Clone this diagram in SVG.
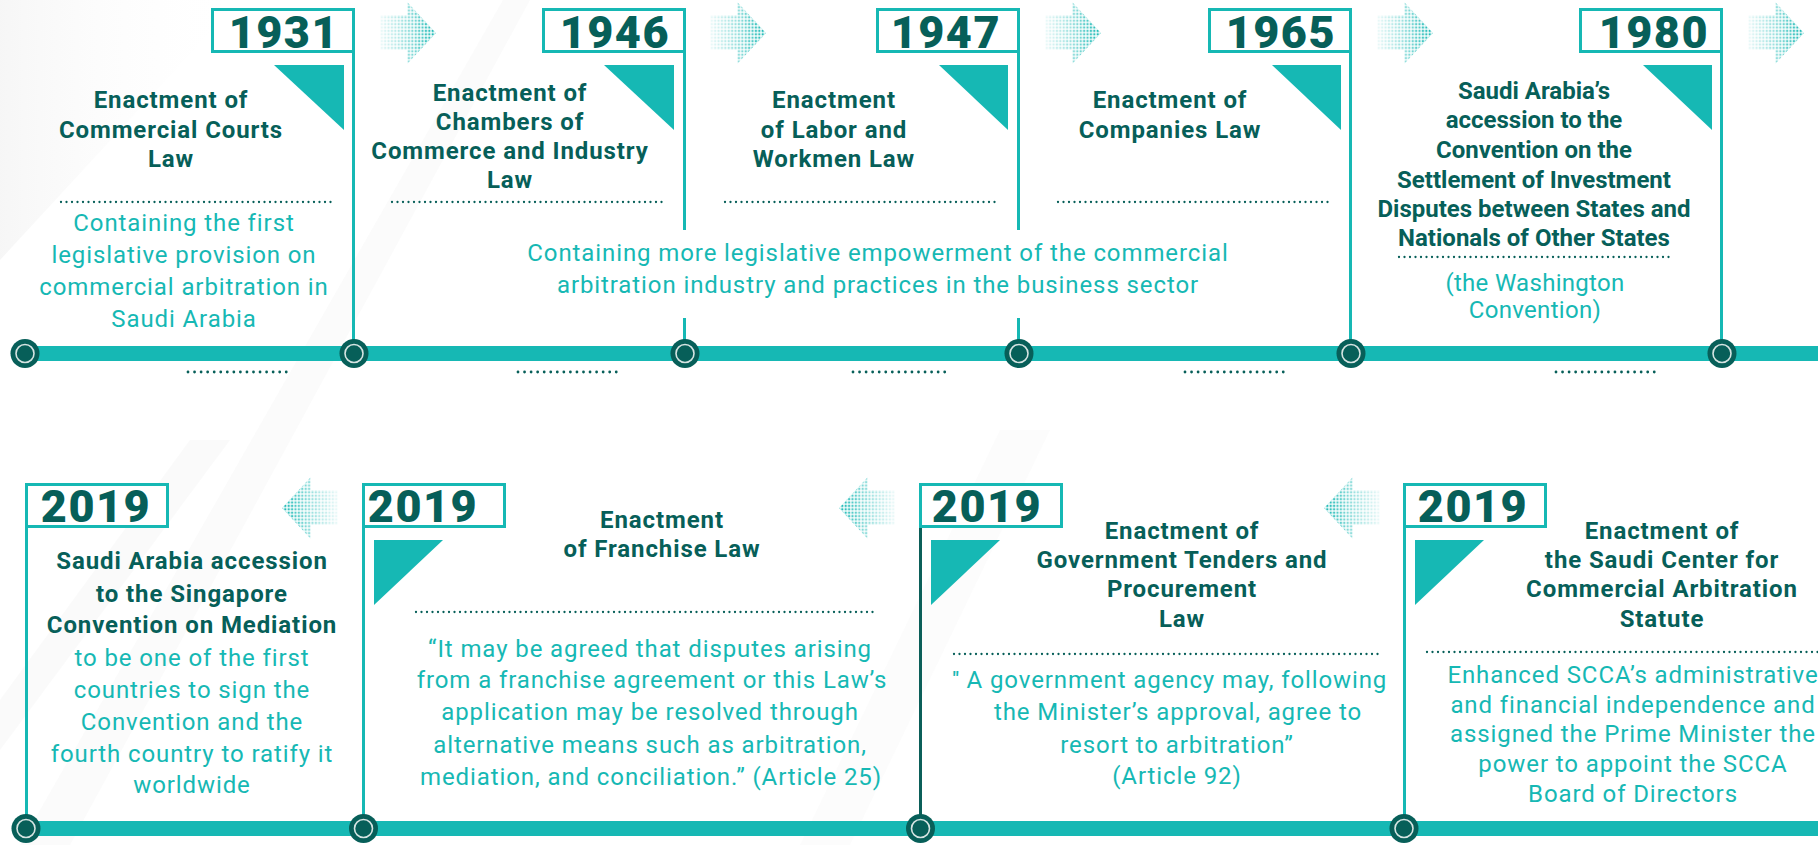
<svg xmlns="http://www.w3.org/2000/svg" xmlns:xlink="http://www.w3.org/1999/xlink" width="1818" height="845" viewBox="0 0 1818 845">
<style>
.t{font-family:Roboto,"Liberation Sans",sans-serif;font-weight:700;font-size:24px;letter-spacing:0.9px;fill:#075f59;text-anchor:middle}
.tc{letter-spacing:0px}
.d{font-family:Roboto,"Liberation Sans",sans-serif;font-weight:400;font-size:24px;letter-spacing:0.9px;fill:#16b8b4;text-anchor:middle}
.y{font-family:Roboto,"Liberation Sans",sans-serif;font-weight:900;font-size:45px;letter-spacing:1.5px;fill:#075f59}
.sep{stroke:#075f59;stroke-width:2.3;stroke-dasharray:0 5.5;stroke-linecap:round;fill:none}
.sub{stroke:#075f59;stroke-width:2.8;stroke-dasharray:0 6.55;stroke-linecap:round;fill:none}
.box{fill:#fff;stroke:#16b8b4;stroke-width:3}
.vl{stroke:#16b8b4;stroke-width:3;fill:none}
.tri{fill:#16b8b4}
.bar{fill:#16b8b4}
</style>
<defs>
<pattern id="dots" width="3.4" height="3.4" patternUnits="userSpaceOnUse">
<rect x="0.6" y="0.6" width="2.2" height="2.2" fill="#16b8b4"/>
</pattern>
<linearGradient id="fade" x1="0" y1="0" x2="1" y2="0">
<stop offset="0" stop-color="#fff" stop-opacity="0.92"/>
<stop offset="0.5" stop-color="#fff" stop-opacity="0.55"/>
<stop offset="1" stop-color="#fff" stop-opacity="0"/>
</linearGradient>
<linearGradient id="bgA" x1="0" y1="0" x2="1" y2="0">
<stop offset="0" stop-color="#efefef" stop-opacity="0.9"/>
<stop offset="1" stop-color="#ffffff" stop-opacity="0"/>
</linearGradient>
<g id="arr">
<polygon points="0,13 27,13 27,0 56,31 27,62 27,48 0,48" fill="url(#dots)"/>
<polygon points="0,13 27,13 27,0 56,31 27,62 27,48 0,48" fill="url(#fade)"/>
</g>
<g id="knob">
<circle r="14.5" fill="#075f59"/>
<circle r="9" fill="none" stroke="#d6e4e2" stroke-width="1.6"/>
</g>
</defs>

<g id="background">
<rect width="1818" height="845" fill="#ffffff"/>
<polygon points="0,0 240,0 0,260" fill="url(#bgA)" opacity="0.6"/>
<polygon points="503,0 530,0 70,845 20,845" fill="#f4f4f4" opacity="0.4"/>
<polygon points="190,440 230,440 0,750 0,700" fill="#f3f3f3" opacity="0.4"/>
<polygon points="1000,430 1050,430 850,845 800,845" fill="#f6f6f6" opacity="0.35"/>
</g>

<g id="connectors">
<rect class="bar" x="25" y="346" width="1793" height="15"/>
<rect class="bar" x="25" y="821" width="1793" height="15"/>
<line class="vl" x1="353.5" y1="51" x2="353.5" y2="353"/>
<line class="vl" x1="684.5" y1="51" x2="684.5" y2="230"/>
<line class="vl" x1="684.5" y1="318" x2="684.5" y2="353"/>
<line class="vl" x1="1018.5" y1="51" x2="1018.5" y2="230"/>
<line class="vl" x1="1018.5" y1="318" x2="1018.5" y2="353"/>
<line class="vl" x1="1350.5" y1="51" x2="1350.5" y2="353"/>
<line class="vl" x1="1721.5" y1="51" x2="1721.5" y2="353"/>
<line class="vl" x1="26.5" y1="527" x2="26.5" y2="828"/>
<line class="vl" x1="363.5" y1="527" x2="363.5" y2="828"/>
<line class="vl" x1="920.5" y1="527" x2="920.5" y2="828" style="stroke:#0b5f59"/>
<line class="vl" x1="1404.5" y1="527" x2="1404.5" y2="828"/>
<use xlink:href="#knob" x="25" y="353.5"/>
<use xlink:href="#knob" x="354" y="353.5"/>
<use xlink:href="#knob" x="685" y="353.5"/>
<use xlink:href="#knob" x="1019" y="353.5"/>
<use xlink:href="#knob" x="1351" y="353.5"/>
<use xlink:href="#knob" x="1722" y="353.5"/>
<use xlink:href="#knob" x="26" y="828.5"/>
<use xlink:href="#knob" x="363.5" y="828.5"/>
<use xlink:href="#knob" x="920.5" y="828.5"/>
<use xlink:href="#knob" x="1404" y="828.5"/>
<line class="sub" x1="188" y1="372" x2="287" y2="372"/>
<line class="sub" x1="518" y1="372" x2="617" y2="372"/>
<line class="sub" x1="853" y1="372" x2="951" y2="372"/>
<line class="sub" x1="1185" y1="372" x2="1284" y2="372"/>
<line class="sub" x1="1556" y1="372" x2="1655" y2="372"/>
<use xlink:href="#arr" transform="translate(380,2)"/>
<use xlink:href="#arr" transform="translate(710,2)"/>
<use xlink:href="#arr" transform="translate(1045,2)"/>
<use xlink:href="#arr" transform="translate(1377,2)"/>
<use xlink:href="#arr" transform="translate(1748,2)"/>
<use xlink:href="#arr" transform="translate(338,477) scale(-1,1)"/>
<use xlink:href="#arr" transform="translate(895,477) scale(-1,1)"/>
<use xlink:href="#arr" transform="translate(1380,477) scale(-1,1)"/>
</g>

<g id="node-1931">
<rect class="box" x="212.5" y="9.5" width="141" height="42"/>
<text class="y" x="339" y="48" text-anchor="end">1931</text>
<polygon class="tri" points="274,65 344,65 344,130"/>
<text class="t" x="171" y="108">Enactment of</text>
<text class="t" x="171" y="138">Commercial Courts</text>
<text class="t" x="171" y="167">Law</text>
<line class="sep" x1="61" y1="202" x2="333" y2="202"/>
<text class="d" x="184" y="231">Containing the first</text>
<text class="d" x="184" y="263">legislative provision on</text>
<text class="d" x="184" y="295">commercial arbitration in</text>
<text class="d" x="184" y="327">Saudi Arabia</text>
</g>

<g id="node-1946">
<rect class="box" x="543.5" y="9.5" width="141" height="42"/>
<text class="y" x="670" y="48" text-anchor="end">1946</text>
<polygon class="tri" points="604,65 674,65 674,130"/>
<text class="t" x="510" y="101">Enactment of</text>
<text class="t" x="510" y="130">Chambers of</text>
<text class="t" x="510" y="159">Commerce and Industry</text>
<text class="t" x="510" y="188">Law</text>
<line class="sep" x1="392" y1="202" x2="663" y2="202"/>
</g>

<g id="node-1947">
<rect class="box" x="877.5" y="9.5" width="141" height="42"/>
<text class="y" x="1001" y="48" text-anchor="end">1947</text>
<polygon class="tri" points="939,65 1008,65 1008,130"/>
<text class="t" x="834" y="108">Enactment</text>
<text class="t" x="834" y="138">of Labor and</text>
<text class="t" x="834" y="167">Workmen Law</text>
<line class="sep" x1="725" y1="202" x2="998" y2="202"/>
</g>

<g id="node-1965">
<rect class="box" x="1209.5" y="9.5" width="141" height="42"/>
<text class="y" x="1336" y="48" text-anchor="end">1965</text>
<polygon class="tri" points="1272,65 1341,65 1341,130"/>
<text class="t" x="1170" y="108">Enactment of</text>
<text class="t" x="1170" y="138">Companies Law</text>
<line class="sep" x1="1058" y1="202" x2="1330" y2="202"/>
</g>

<g id="shared-note">
<text class="d" x="878" y="261">Containing more legislative empowerment of the commercial</text>
<text class="d" x="878" y="293">arbitration industry and practices in the business sector</text>
</g>

<g id="node-1980">
<rect class="box" x="1580.5" y="9.5" width="141" height="42"/>
<text class="y" x="1709" y="48" text-anchor="end">1980</text>
<polygon class="tri" points="1643,65 1712,65 1712,130"/>
<text class="t tc" x="1534" y="99">Saudi Arabia’s</text>
<text class="t tc" x="1534" y="128">accession to the</text>
<text class="t tc" x="1534" y="158">Convention on the</text>
<text class="t tc" x="1534" y="188">Settlement of Investment</text>
<text class="t tc" x="1534" y="217">Disputes between States and</text>
<text class="t tc" x="1534" y="246">Nationals of Other States</text>
<line class="sep" x1="1399" y1="257" x2="1672" y2="257"/>
<text class="d" x="1535" y="291" style="letter-spacing:0.3px">(the Washington</text>
<text class="d" x="1535" y="318" style="letter-spacing:0.3px">Convention)</text>
</g>

<g id="node-2019-singapore">
<rect class="box" x="26.5" y="484.5" width="141" height="42"/>
<text class="y" x="96" y="522" text-anchor="middle">2019</text>
<text class="t" x="192" y="569">Saudi Arabia accession</text>
<text class="t" x="192" y="602">to the Singapore</text>
<text class="t" x="192" y="633">Convention on Mediation</text>
<text class="d" x="192" y="666">to be one of the first</text>
<text class="d" x="192" y="698">countries to sign the</text>
<text class="d" x="192" y="730">Convention and the</text>
<text class="d" x="192" y="762">fourth country to ratify it</text>
<text class="d" x="192" y="793">worldwide</text>
</g>

<g id="node-2019-franchise">
<rect class="box" x="363.5" y="484.5" width="141" height="42"/>
<text class="y" x="423" y="522" text-anchor="middle">2019</text>
<polygon class="tri" points="374,540 443,540 374,605"/>
<text class="t" x="662" y="528">Enactment</text>
<text class="t" x="662" y="557">of Franchise Law</text>
<line class="sep" x1="416" y1="612" x2="878" y2="612"/>
<text class="d" x="650" y="657">“It may be agreed that disputes arising</text>
<text class="d" x="652" y="688">from a franchise agreement or this Law’s</text>
<text class="d" x="650" y="720">application may be resolved through</text>
<text class="d" x="650" y="753">alternative means such as arbitration,</text>
<text class="d" x="651" y="785">mediation, and conciliation.” (Article 25)</text>
</g>

<g id="node-2019-tenders">
<rect class="box" x="920.5" y="484.5" width="141" height="42"/>
<text class="y" x="987" y="522" text-anchor="middle">2019</text>
<polygon class="tri" points="931,540 1000,540 931,605"/>
<text class="t" x="1182" y="539">Enactment of</text>
<text class="t" x="1182" y="568">Government Tenders and</text>
<text class="t" x="1182" y="597">Procurement</text>
<text class="t" x="1182" y="627">Law</text>
<line class="sep" x1="954" y1="654" x2="1382" y2="654"/>
<text class="d" x="1170" y="688"><tspan font-size="19" font-weight="700" dy="-3">"</tspan><tspan dy="3"> A government agency may, following</tspan></text>
<text class="d" x="1178" y="720">the Minister’s approval, agree to</text>
<text class="d" x="1177" y="753">resort to arbitration”</text>
<text class="d" x="1177" y="784">(Article 92)</text>
</g>

<g id="node-2019-scca">
<rect class="box" x="1404.5" y="484.5" width="141" height="42"/>
<text class="y" x="1473" y="522" text-anchor="middle">2019</text>
<polygon class="tri" points="1415,540 1484,540 1415,605"/>
<text class="t" x="1662" y="539">Enactment of</text>
<text class="t" x="1662" y="568">the Saudi Center for</text>
<text class="t" x="1662" y="597">Commercial Arbitration</text>
<text class="t" x="1662" y="627">Statute</text>
<line class="sep" x1="1427" y1="652" x2="1818" y2="652"/>
<text class="d" x="1633" y="683">Enhanced SCCA’s administrative</text>
<text class="d" x="1633" y="713">and financial independence and</text>
<text class="d" x="1633" y="742">assigned the Prime Minister the</text>
<text class="d" x="1633" y="772">power to appoint the SCCA</text>
<text class="d" x="1633" y="802">Board of Directors</text>
</g>
</svg>
